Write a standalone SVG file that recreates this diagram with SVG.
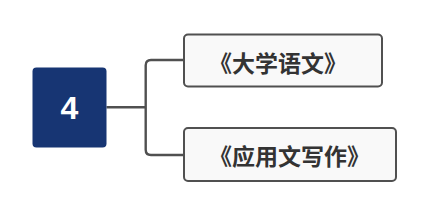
<svg xmlns="http://www.w3.org/2000/svg" width="446" height="210" viewBox="0 0 446 210">
<style>
.box{fill:#f9f9f9;stroke:#505050;stroke-width:2}
.lbl{font-family:"Noto Sans CJK SC","Noto Sans",sans-serif;font-weight:bold;font-size:23px;fill:#333333;text-anchor:middle}
.conn{fill:none;stroke:#505050;stroke-width:2.4}
</style>
<rect width="446" height="210" fill="#ffffff"/>
<g id="connectors">
<path class="conn" d="M106.5 107.3 H145.7"/>
<path class="conn" d="M184 60 H151 Q145.7 60 145.7 65.3 V149.7 Q145.7 155 151 155 H184"/>
</g>
<g id="root">
<rect x="32.5" y="67.5" width="74" height="80" rx="4" fill="#173573"/>
<text x="69.5" y="119.3" font-family="Liberation Sans, Arial, sans-serif" font-weight="bold" font-size="32" fill="#ffffff" text-anchor="middle">4</text>
</g>
<g id="n1">
<rect class="box" x="184" y="34.5" width="198" height="52" rx="4"/>
<text class="lbl" x="278" y="71.5">《大学语文》</text>
</g>
<g id="n2">
<rect class="box" x="184" y="128" width="212" height="53" rx="4"/>
<text class="lbl" x="289.5" y="164.8">《应用文写作》</text>
</g>
</svg>
